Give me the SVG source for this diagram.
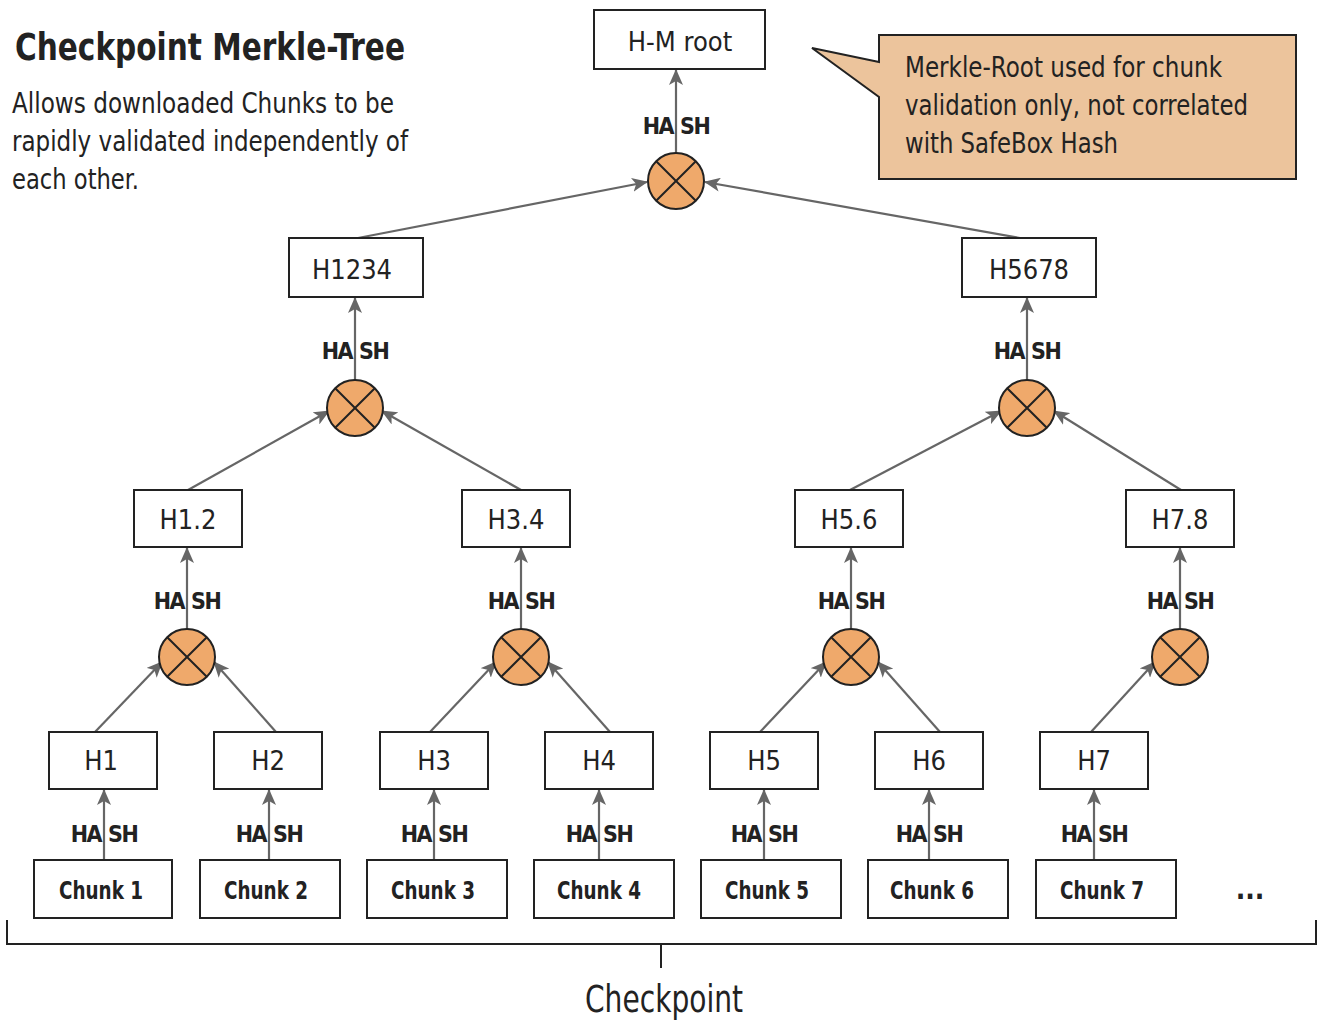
<svg xmlns="http://www.w3.org/2000/svg" width="1318" height="1020" viewBox="0 0 1318 1020">
<style>
text{font-family:"DejaVu Sans Condensed","Liberation Sans Narrow","Roboto",sans-serif;fill:#222}
.box{fill:#fff;stroke:#222;stroke-width:2}
.lbl{font-size:27px;text-anchor:middle}
.chunk{font-size:25px;font-weight:bold;text-anchor:middle}
.hash{font-size:23px;font-weight:bold;text-anchor:middle;letter-spacing:-1.5px}
.conn{stroke:#666;stroke-width:2.2;fill:none;marker-end:url(#ah)}
.op{fill:#efa96b;stroke:#222;stroke-width:2}
.x{stroke:#222;stroke-width:2}
.big{font-size:28px}
</style>
<defs>
<marker id="ah" viewBox="0 0 16 14" refX="15" refY="7" markerWidth="16" markerHeight="14" markerUnits="userSpaceOnUse" orient="auto">
<path d="M0,0 L16,7 L0,14 L4,7 z" fill="#666"/>
</marker>
<g id="opsym"><circle r="28" class="op"/><path d="M-19.8,-19.8 L19.8,19.8 M-19.8,19.8 L19.8,-19.8" class="x"/></g>
</defs>
<rect width="1318" height="1020" fill="#fff"/>
<g id="title">
<text x="15" y="60" style="font-size:37px;font-weight:bold" textLength="390" lengthAdjust="spacingAndGlyphs">Checkpoint Merkle-Tree</text>
<text x="12" y="113" class="big" textLength="382" lengthAdjust="spacingAndGlyphs">Allows downloaded Chunks to be</text>
<text x="12" y="151" class="big" textLength="396" lengthAdjust="spacingAndGlyphs">rapidly validated independently of</text>
<text x="12" y="189" class="big" textLength="127" lengthAdjust="spacingAndGlyphs">each other.</text>
</g>
<g id="callout">
<path d="M879,35 H1296 V179 H879 V97 L812,48 L879,62 Z" fill="#ecc49c" stroke="#222" stroke-width="2"/>
<text x="905" y="77" class="big" textLength="317" lengthAdjust="spacingAndGlyphs">Merkle-Root used for chunk</text>
<text x="905" y="115" class="big" textLength="343" lengthAdjust="spacingAndGlyphs">validation only, not correlated</text>
<text x="905" y="153" class="big" textLength="213" lengthAdjust="spacingAndGlyphs">with SafeBox Hash</text>
</g>
<g id="connectors">
<line x1="676" y1="153" x2="676" y2="70" class="conn"/>
<line x1="358" y1="238" x2="647" y2="182" class="conn"/>
<line x1="1020" y1="238" x2="705" y2="182" class="conn"/>
<line x1="355" y1="380" x2="355" y2="298" class="conn"/>
<line x1="1027" y1="380" x2="1027" y2="298" class="conn"/>
<line x1="188" y1="490" x2="329" y2="411" class="conn"/>
<line x1="521" y1="490" x2="382" y2="411" class="conn"/>
<line x1="850" y1="490" x2="1001" y2="411" class="conn"/>
<line x1="1181" y1="490" x2="1054" y2="411" class="conn"/>
<line x1="187" y1="629" x2="187" y2="548" class="conn"/>
<line x1="521" y1="629" x2="521" y2="548" class="conn"/>
<line x1="851" y1="629" x2="851" y2="548" class="conn"/>
<line x1="1180" y1="629" x2="1180" y2="548" class="conn"/>
<line x1="95" y1="732" x2="162" y2="662" class="conn"/>
<line x1="276" y1="732" x2="214" y2="662" class="conn"/>
<line x1="430" y1="732" x2="496" y2="662" class="conn"/>
<line x1="610" y1="732" x2="548" y2="662" class="conn"/>
<line x1="760" y1="732" x2="826" y2="662" class="conn"/>
<line x1="940" y1="732" x2="878" y2="662" class="conn"/>
<line x1="1091" y1="732" x2="1155" y2="662" class="conn"/>
<line x1="104" y1="860" x2="104" y2="790" class="conn"/>
<line x1="269" y1="860" x2="269" y2="790" class="conn"/>
<line x1="434" y1="860" x2="434" y2="790" class="conn"/>
<line x1="599" y1="860" x2="599" y2="790" class="conn"/>
<line x1="764" y1="860" x2="764" y2="790" class="conn"/>
<line x1="929" y1="860" x2="929" y2="790" class="conn"/>
<line x1="1094" y1="860" x2="1094" y2="790" class="conn"/>
</g>
<g id="hash-labels">
<text x="676" y="134" class="hash">HA<tspan dx="7">SH</tspan></text>
<text x="355" y="359" class="hash">HA<tspan dx="7">SH</tspan></text>
<text x="1027" y="359" class="hash">HA<tspan dx="7">SH</tspan></text>
<text x="187" y="609" class="hash">HA<tspan dx="7">SH</tspan></text>
<text x="521" y="609" class="hash">HA<tspan dx="7">SH</tspan></text>
<text x="851" y="609" class="hash">HA<tspan dx="7">SH</tspan></text>
<text x="1180" y="609" class="hash">HA<tspan dx="7">SH</tspan></text>
<text x="104" y="842" class="hash">HA<tspan dx="7">SH</tspan></text>
<text x="269" y="842" class="hash">HA<tspan dx="7">SH</tspan></text>
<text x="434" y="842" class="hash">HA<tspan dx="7">SH</tspan></text>
<text x="599" y="842" class="hash">HA<tspan dx="7">SH</tspan></text>
<text x="764" y="842" class="hash">HA<tspan dx="7">SH</tspan></text>
<text x="929" y="842" class="hash">HA<tspan dx="7">SH</tspan></text>
<text x="1094" y="842" class="hash">HA<tspan dx="7">SH</tspan></text>
</g>
<g id="root"><rect x="594" y="10" width="171" height="59" class="box"/><text x="680" y="51" class="lbl">H-M root</text></g>
<g id="op-root"><use href="#opsym" x="676" y="181"/></g>
<g id="h1234"><rect x="289" y="238" width="134" height="59" class="box"/><text x="352" y="279" class="lbl">H1234</text></g>
<g id="h5678"><rect x="962" y="238" width="134" height="59" class="box"/><text x="1029" y="279" class="lbl">H5678</text></g>
<g id="op-1234"><use href="#opsym" x="355" y="408"/></g>
<g id="op-5678"><use href="#opsym" x="1027" y="408"/></g>
<g id="h12"><rect x="134" y="490" width="108" height="57" class="box"/><text x="188" y="529" class="lbl">H1.2</text></g>
<g id="h34"><rect x="462" y="490" width="108" height="57" class="box"/><text x="516" y="529" class="lbl">H3.4</text></g>
<g id="h56"><rect x="795" y="490" width="108" height="57" class="box"/><text x="849" y="529" class="lbl">H5.6</text></g>
<g id="h78"><rect x="1126" y="490" width="108" height="57" class="box"/><text x="1180" y="529" class="lbl">H7.8</text></g>
<g id="op-12"><use href="#opsym" x="187" y="657"/></g>
<g id="op-34"><use href="#opsym" x="521" y="657"/></g>
<g id="op-56"><use href="#opsym" x="851" y="657"/></g>
<g id="op-78"><use href="#opsym" x="1180" y="657"/></g>
<g id="h1"><rect x="49" y="732" width="108" height="57" class="box"/><text x="101" y="770" class="lbl">H1</text></g>
<g id="h2"><rect x="214" y="732" width="108" height="57" class="box"/><text x="268" y="770" class="lbl">H2</text></g>
<g id="h3"><rect x="380" y="732" width="108" height="57" class="box"/><text x="434" y="770" class="lbl">H3</text></g>
<g id="h4"><rect x="545" y="732" width="108" height="57" class="box"/><text x="599" y="770" class="lbl">H4</text></g>
<g id="h5"><rect x="710" y="732" width="108" height="57" class="box"/><text x="764" y="770" class="lbl">H5</text></g>
<g id="h6"><rect x="875" y="732" width="108" height="57" class="box"/><text x="929" y="770" class="lbl">H6</text></g>
<g id="h7"><rect x="1040" y="732" width="108" height="57" class="box"/><text x="1094" y="770" class="lbl">H7</text></g>
<g id="chunk1"><rect x="34" y="860" width="138" height="58" class="box"/><text x="101" y="899" class="chunk" textLength="84" lengthAdjust="spacingAndGlyphs">Chunk 1</text></g>
<g id="chunk2"><rect x="200" y="860" width="140" height="58" class="box"/><text x="266" y="899" class="chunk" textLength="84" lengthAdjust="spacingAndGlyphs">Chunk 2</text></g>
<g id="chunk3"><rect x="367" y="860" width="140" height="58" class="box"/><text x="433" y="899" class="chunk" textLength="84" lengthAdjust="spacingAndGlyphs">Chunk 3</text></g>
<g id="chunk4"><rect x="534" y="860" width="140" height="58" class="box"/><text x="599" y="899" class="chunk" textLength="84" lengthAdjust="spacingAndGlyphs">Chunk 4</text></g>
<g id="chunk5"><rect x="701" y="860" width="140" height="58" class="box"/><text x="767" y="899" class="chunk" textLength="84" lengthAdjust="spacingAndGlyphs">Chunk 5</text></g>
<g id="chunk6"><rect x="868" y="860" width="140" height="58" class="box"/><text x="932" y="899" class="chunk" textLength="84" lengthAdjust="spacingAndGlyphs">Chunk 6</text></g>
<g id="chunk7"><rect x="1036" y="860" width="140" height="58" class="box"/><text x="1102" y="899" class="chunk" textLength="84" lengthAdjust="spacingAndGlyphs">Chunk 7</text></g>
<g id="more"><text x="1250" y="899" class="chunk" style="font-size:28px">...</text></g>
<g id="checkpoint">
<path d="M7,920 V944 H1316 V920 M661,944 V968" fill="none" stroke="#222" stroke-width="2"/>
<text x="664" y="1012" style="font-size:37px;text-anchor:middle" textLength="158" lengthAdjust="spacingAndGlyphs">Checkpoint</text>
</g>
</svg>
